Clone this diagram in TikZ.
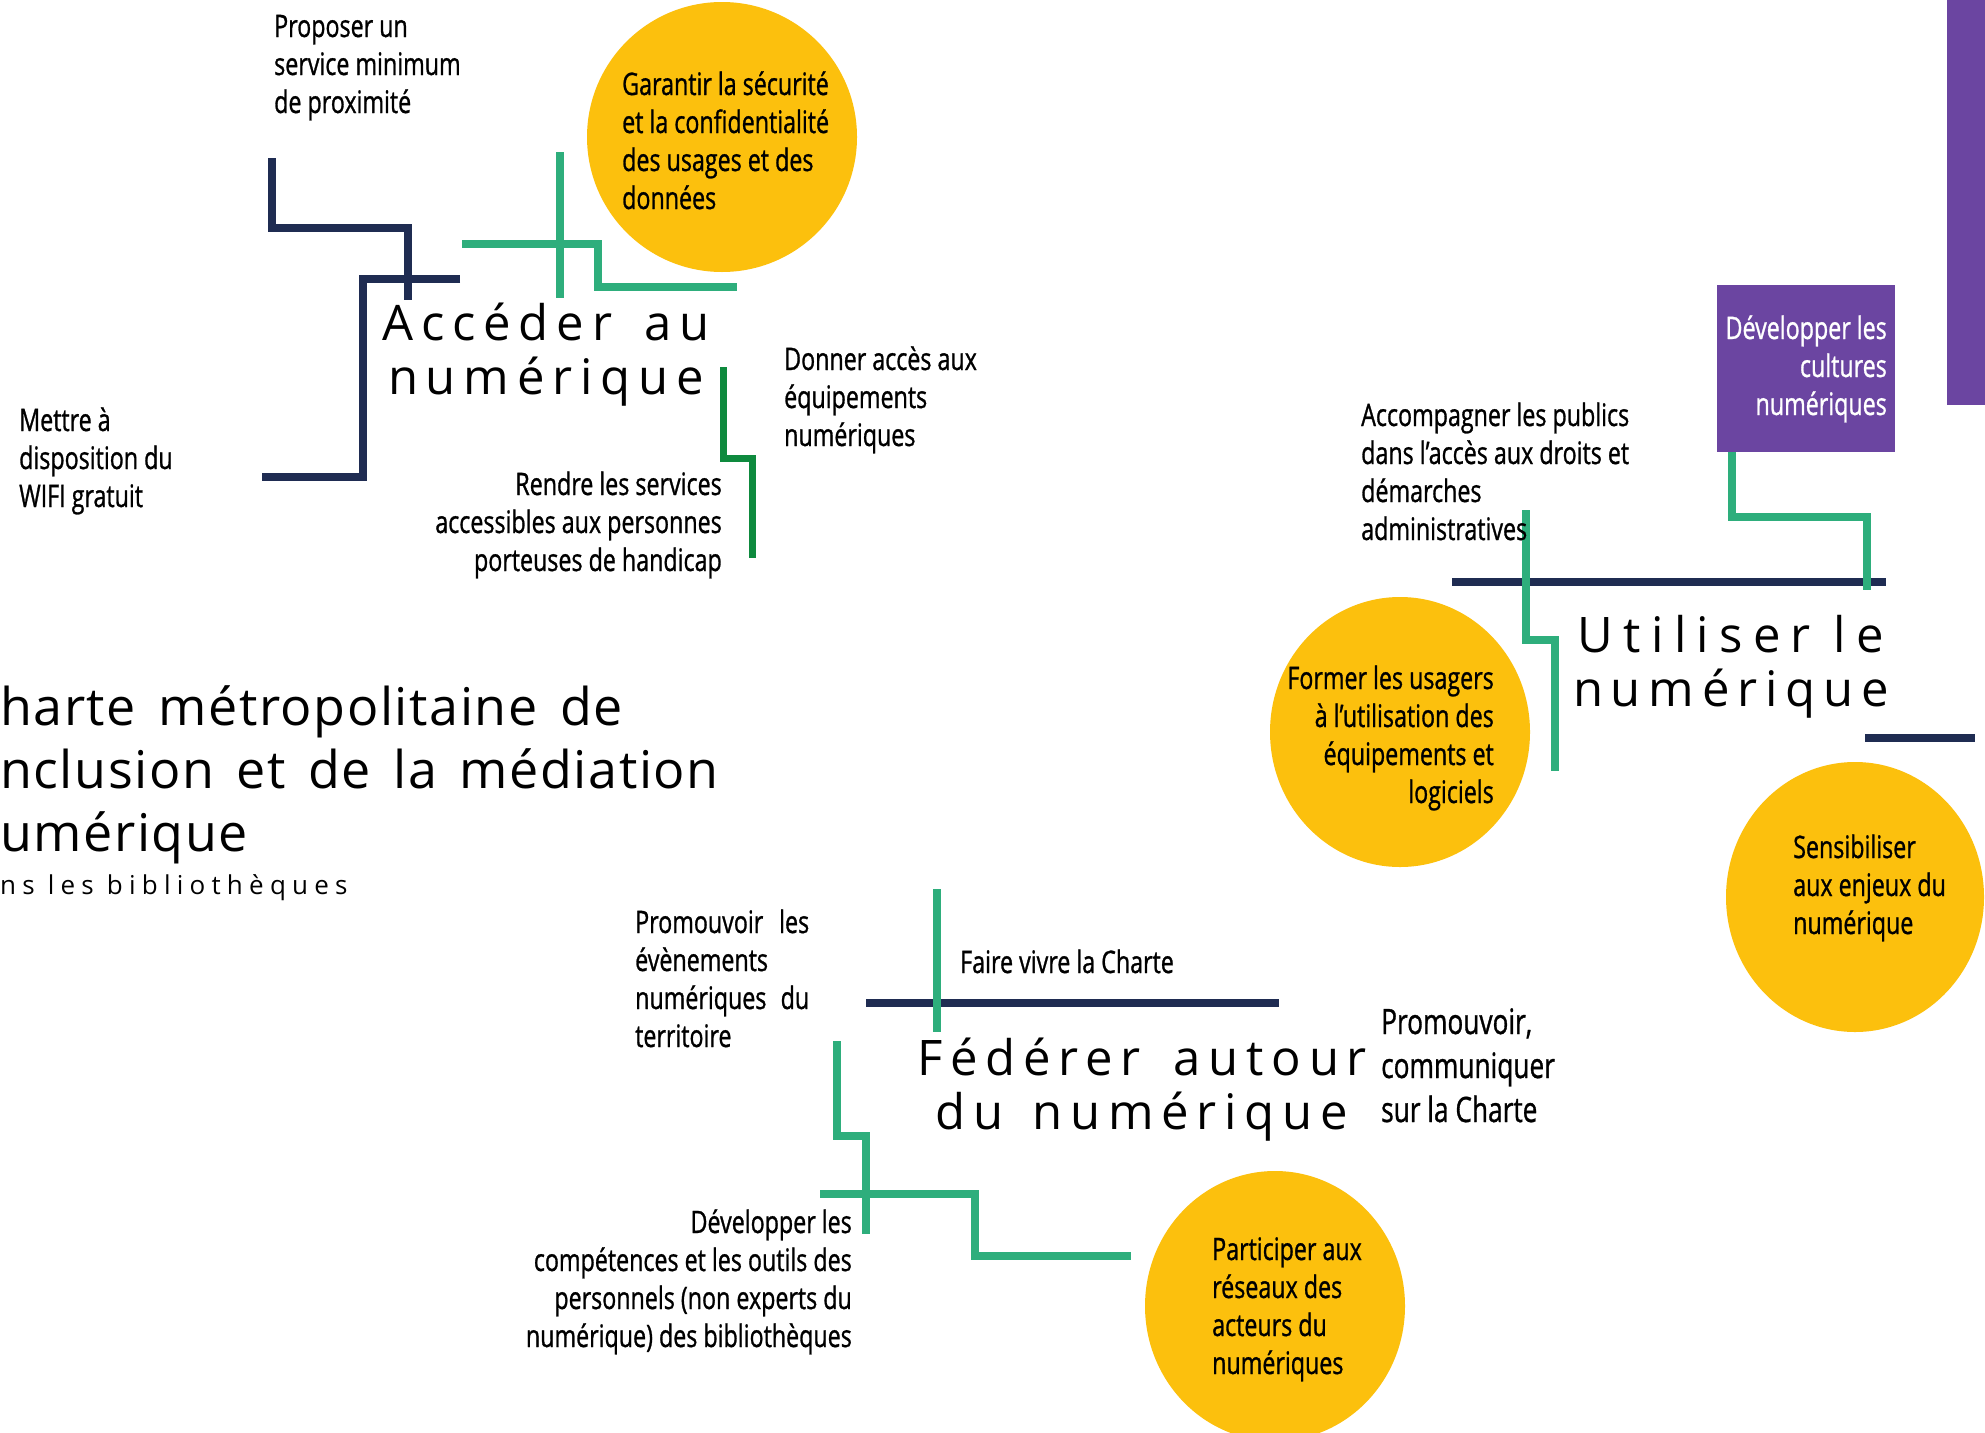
\documentclass[tikz,border=0pt]{standalone}
\usepackage{fontspec}
\setmainfont{Open Sans}
\newfontfamily\bodyf[FakeStretch=0.75,FakeBold=0.9]{Open Sans}
\newfontfamily\titlef[LetterSpace=16]{Open Sans}
\newfontfamily\titlefw[LetterSpace=21]{Open Sans}
\newfontfamily\headf[LetterSpace=3,WordSpace=1.5]{Open Sans}
\newfontfamily\subf[LetterSpace=24]{Open Sans}
\newcommand\txtblock[2]{\begin{tabular}[t]{@{}#1@{}}#2\end{tabular}}
\definecolor{navy}{HTML}{1F2C52}
\definecolor{lgreen}{HTML}{2EAE7C}
\definecolor{dgreen}{HTML}{0E8A3E}
\definecolor{sun}{HTML}{FCC00D}
\definecolor{violet}{HTML}{6B45A1}
\begin{document}
\begin{tikzpicture}[x=1pt,y=-1pt,
  body/.style={inner sep=0, font=\bodyf\fontsize{31}{38}\selectfont},
  bigbody/.style={inner sep=0, font=\bodyf\fontsize{35}{44}\selectfont},
  ttl/.style={inner sep=0, anchor=base, font=\titlef\fontsize{49}{54}\selectfont},
  navyline/.style={draw=navy, line width=8pt},
  greenline/.style={draw=lgreen, line width=7.5pt},
  dgreenline/.style={draw=dgreen, line width=7pt},
  disc/.style={fill=sun}]
\useasboundingbox (0,0) rectangle (1985,1432);
\clip (0,0) rectangle (1985,1432);
\fill[white] (0,0) rectangle (1985,1432);

% ---------- shapes ----------
\fill[disc] (722,137) circle (135);
\fill[disc] (1400,732) ellipse [x radius=130, y radius=135];
\fill[disc] (1855,897) ellipse [x radius=129, y radius=135];
\fill[disc] (1275,1306) ellipse [x radius=130, y radius=135];
\fill[violet] (1947,0) rectangle (1985,405);
\fill[violet] (1717,285) rectangle (1895,452);

% ---------- top-left group ----------
\draw[navyline] (272,158) |- (408,228) -- (408,300);
\draw[navyline] (460,279) -| (363,477) -- (262,477);
\draw[greenline] (560,152) -- (560,298);
\draw[greenline] (462,244) -| (598,287) -- (737,287);
\draw[dgreenline] (723,367) |- (752,458) -- (752,558);

% ---------- right group ----------
\draw[navyline] (1452,582) -- (1886,582);
\draw[navyline] (1865,738) -- (1975,738);
\draw[greenline] (1732,452) |- (1867,517) -- (1867,590);
\draw[greenline] (1526,510) |- (1555,640) -- (1555,771);

% ---------- bottom group ----------
\draw[navyline] (866,1003) -- (1279,1003);
\draw[greenline] (937,889) -- (937,1032);
\draw[greenline] (837,1041) |- (866,1136) -- (866,1234);
\draw[greenline] (820,1194) -| (975,1256) -- (1131,1256);

% ---------- titles ----------
\node[ttl] (acc) at (546,340) {\txtblock{c}{Accéder\hspace{12pt} au\\numérique}};
\node[ttl] (uti) at (1731,652) {\txtblock{c}{{\titlefw Utiliser le}\\numérique}};
\node[ttl] (fed) at (1142,1075) {\txtblock{c}{Fédérer\hspace{12pt} autour\\du\hspace{8pt} numérique}};

\node[anchor=base west, inner sep=0, font=\headf\fontsize{52}{63}\selectfont] (head) at (0,725)
  {\txtblock{l}{harte métropolitaine de\\nclusion et de la médiation\\umérique}};
\node[anchor=base west, inner sep=0, font=\subf\fontsize{26}{30}\selectfont] (sub) at (0,894)
  {ns les bibliothèques};

% ---------- texts ----------
\node[body, anchor=base west] (t1) at (274,37) {\txtblock{l}{Proposer un\\service minimum\\de proximité}};
\node[body, anchor=base west] (t2) at (622,95) {\txtblock{l}{Garantir la sécurité\\et la confidentialité\\des usages et des\\données}};
\node[body, anchor=base west] (t3) at (19,431) {\txtblock{l}{Mettre à\\disposition du\\WIFI gratuit}};
\node[body, anchor=base east] (t4) at (722,495) {\txtblock{r}{Rendre les services\\accessibles aux personnes\\porteuses de handicap}};
\node[body, anchor=base west] (t5) at (784,370) {\txtblock{l}{Donner accès aux\\équipements\\numériques}};
\node[body, anchor=base west] (t6) at (1361,426) {\txtblock{l}{Accompagner les publics\\dans l’accès aux droits et\\démarches\\administratives}};
\node[body, anchor=base east, text=white] (t7) at (1887,339) {\txtblock{r}{Développer les\\cultures\\numériques}};
\node[body, anchor=base east] (t8) at (1494,689) {\txtblock{r}{Former les usagers\\à l’utilisation des\\équipements et\\logiciels}};
\node[body, anchor=base west] (t9) at (1793,858) {\txtblock{l}{Sensibiliser\\aux enjeux du\\numérique}};
\node[body, anchor=base west] (t10) at (635,933) {\txtblock{l}{\makebox[174pt][s]{Promouvoir les}\\évènements\\\makebox[174pt][s]{numériques du}\\territoire}};
\node[body, anchor=base west] (t11) at (960,973) {Faire vivre la Charte};
\node[bigbody, anchor=base west] (t12) at (1381,1034) {\txtblock{l}{Promouvoir,\\communiquer\\sur la Charte}};
\node[body, anchor=base east] (t13) at (852,1233) {\txtblock{r}{Développer les\\compétences et les outils des\\personnels (non experts du\\numérique) des bibliothèques}};
\node[body, anchor=base west] (t14) at (1212,1260) {\txtblock{l}{Participer aux\\réseaux des\\acteurs du\\numériques}};
\end{tikzpicture}
\end{document}
